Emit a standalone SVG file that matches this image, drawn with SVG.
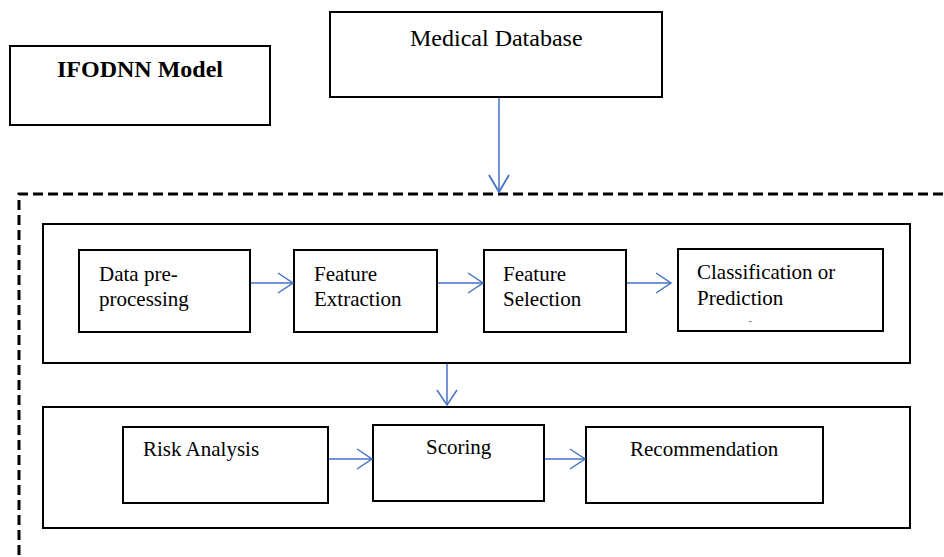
<svg xmlns="http://www.w3.org/2000/svg" width="944" height="557" viewBox="0 0 944 557">
<style>
  .box { fill: #ffffff; stroke: #000000; stroke-width: 2; }
  .t { font-family: "Liberation Serif", "Times New Roman", serif; font-size: 21px; fill: #000000; }
  .title { font-size: 24px; }
  .bold { font-weight: bold; }
  .con { stroke: #4472C4; stroke-width: 1.5; fill: none; }
  .dash { stroke: #000000; stroke-width: 3; fill: none; stroke-dasharray: 10 5; }
</style>
<defs>
  <marker id="arr" markerUnits="userSpaceOnUse" markerWidth="18" markerHeight="24" refX="16" refY="11" orient="auto">
    <path d="M1,1 L16,11 L1,21" stroke="#4472C4" stroke-width="1.5" fill="none"/>
  </marker>
  <marker id="arrBig" markerUnits="userSpaceOnUse" markerWidth="20" markerHeight="24" refX="18" refY="11" orient="auto">
    <path d="M1,1 L18,11 L1,21" stroke="#4472C4" stroke-width="1.8" fill="none"/>
  </marker>
</defs>
<rect width="944" height="557" fill="#ffffff"/>

<g id="outer-frame">
  <path class="dash" d="M19,570 L19,194 L960,194"/>
</g>

<g id="ifodnn-model">
  <rect class="box" x="10" y="46" width="260" height="79"/>
  <text class="t title bold" x="57" y="77">IFODNN Model</text>
</g>

<g id="medical-database">
  <rect class="box" x="330" y="12" width="332" height="85"/>
  <text class="t title" x="410" y="46">Medical Database</text>
</g>

<g id="stage-1">
  <rect class="box" x="43" y="224" width="867" height="139"/>
</g>

<g id="data-preprocessing">
  <rect class="box" x="79" y="250" width="171" height="82"/>
  <text class="t" x="99" y="281">Data pre-</text>
  <text class="t" x="99" y="306">processing</text>
</g>

<g id="feature-extraction">
  <rect class="box" x="294" y="250" width="143" height="82"/>
  <text class="t" x="314" y="281">Feature</text>
  <text class="t" x="314" y="306">Extraction</text>
</g>

<g id="feature-selection">
  <rect class="box" x="484" y="250" width="142" height="82"/>
  <text class="t" x="503" y="281">Feature</text>
  <text class="t" x="503" y="306">Selection</text>
</g>

<g id="classification">
  <rect class="box" x="678" y="249" width="205" height="82"/>
  <text class="t" x="697" y="279">Classification or</text>
  <text class="t" x="697" y="305">Prediction</text>
  <text class="t" x="749" y="324" style="font-size:8px">-</text>
</g>

<g id="stage-2">
  <rect class="box" x="43" y="407" width="867" height="121"/>
</g>

<g id="risk-analysis">
  <rect class="box" x="123" y="427" width="205" height="76"/>
  <text class="t" x="143" y="456">Risk Analysis</text>
</g>

<g id="scoring">
  <rect class="box" x="373" y="425" width="171" height="76"/>
  <text class="t" x="426" y="454">Scoring</text>
</g>

<g id="recommendation">
  <rect class="box" x="586" y="427" width="237" height="76"/>
  <text class="t" x="630" y="456">Recommendation</text>
</g>

<g id="connectors">
  <line class="con" x1="499" y1="98" x2="499" y2="192" marker-end="url(#arrBig)"/>
  <line class="con" x1="251" y1="283" x2="293" y2="283" marker-end="url(#arr)"/>
  <line class="con" x1="438" y1="283" x2="483" y2="283" marker-end="url(#arr)"/>
  <line class="con" x1="627" y1="283" x2="671" y2="283" marker-end="url(#arr)"/>
  <line class="con" x1="447" y1="364" x2="447" y2="405" marker-end="url(#arr)"/>
  <line class="con" x1="329" y1="459" x2="372" y2="459" marker-end="url(#arr)"/>
  <line class="con" x1="545" y1="459" x2="585" y2="459" marker-end="url(#arr)"/>
</g>
</svg>
